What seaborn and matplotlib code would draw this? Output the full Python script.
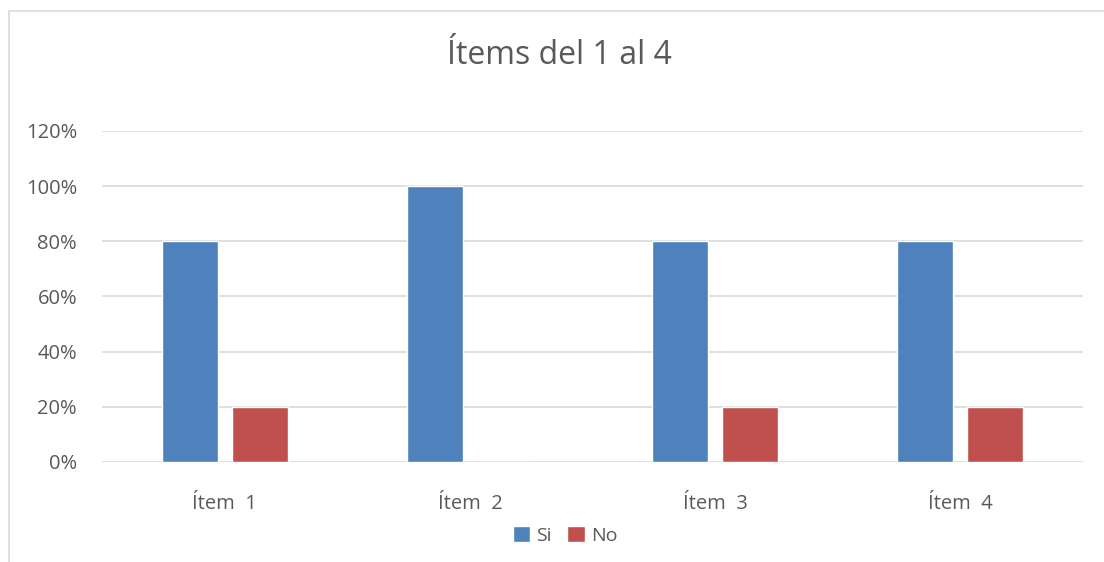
import matplotlib
matplotlib.use("Agg")
import matplotlib.pyplot as plt
from matplotlib.patches import Rectangle
import pandas as pd
import seaborn as sns

# data
items = ["Ítem  1", "Ítem  2", "Ítem  3", "Ítem  4"]
si = [0.80, 1.00, 0.80, 0.80]
no = [0.20, 0.00, 0.20, 0.20]
yticks = [0, 0.2, 0.4, 0.6, 0.8, 1.0, 1.2]

df = pd.DataFrame({
    "item": items * 2,
    "respuesta": ["Si"] * len(items) + ["No"] * len(items),
    "valor": si + no,
})

sns.set_theme(style="white")
plt.rcParams["font.family"] = ["Open Sans", "DejaVu Sans"]
text_color = "#595959"

fig = plt.figure(figsize=(11.04, 5.62), dpi=100)
ax = fig.add_axes([0.0924, 0.178, 0.8886, 0.589])

sns.barplot(data=df, x="item", y="valor", hue="respuesta",
            palette={"Si": "#4F81BD", "No": "#C0504D"}, saturation=1,
            width=0.571, gap=0.2, ax=ax, legend=True, zorder=3)

ax.set_ylim(0, 1.2)
ax.set_yticks(yticks)
ax.set_yticklabels([f"{int(round(t * 100))}%" for t in yticks])
ax.yaxis.grid(True, color="#D9D9D9", linewidth=1.2, zorder=0)
ax.set_axisbelow(True)
for s in ax.spines.values():
    s.set_visible(False)
ax.set_xlabel("")
ax.set_ylabel("")
ax.tick_params(axis="both", length=0, labelsize=14.5, colors=text_color)
ax.tick_params(axis="y", pad=18)
ax.tick_params(axis="x", pad=23)

fig.text(0.507, 1 - 55 / 562, "Ítems del 1 al 4", fontsize=23, color=text_color,
         ha="center", va="center")

leg = ax.legend(loc="upper center", bbox_to_anchor=(0.472, -0.14), ncol=2,
                frameon=False, fontsize=14, handlelength=0.9, handleheight=0.9,
                handletextpad=0.3, columnspacing=0.8)
for t in leg.get_texts():
    t.set_color(text_color)

# outer chart border (only top/left visible in the reference)
fig.patches.append(Rectangle((9 / 1104, -0.1), 1.2, 1 - 11 / 562 + 0.1,
                             transform=fig.transFigure, fill=False,
                             edgecolor="#D9D9D9", linewidth=1.2))

fig.savefig("out.png", dpi=100, facecolor="white")
